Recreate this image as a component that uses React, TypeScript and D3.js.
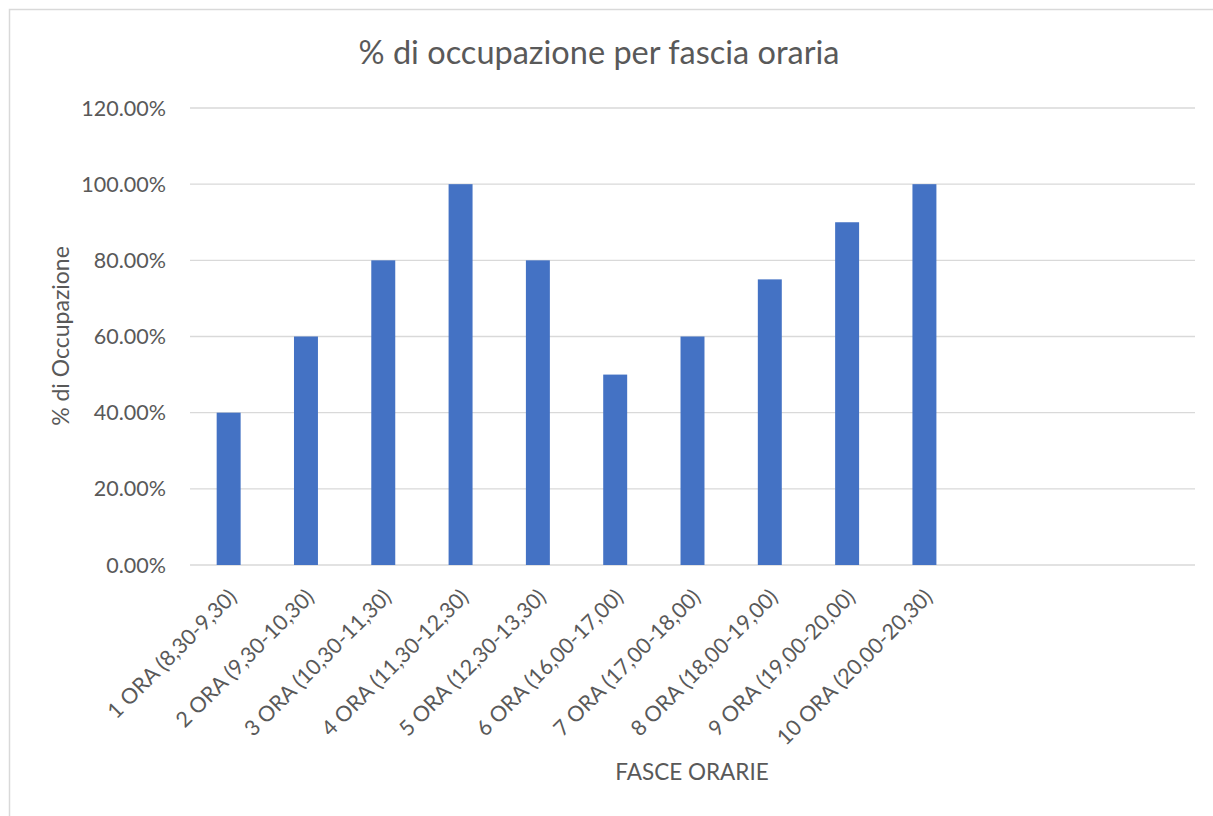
import { useEffect, useRef } from "react";
import * as d3 from "d3";

// categories (13 slots on the axis, the last 3 are empty)
const categories = [
  "1 ORA (8,30-9,30)",
  "2 ORA (9,30-10,30)",
  "3 ORA (10,30-11,30)",
  "4 ORA (11,30-12,30)",
  "5 ORA (12,30-13,30)",
  "6 ORA (16,00-17,00)",
  "7 ORA (17,00-18,00)",
  "8 ORA (18,00-19,00)",
  "9 ORA (19,00-20,00)",
  "10 ORA (20,00-20,30)",
  "",
  " ",
  "  ",
];
const occupancy = [0.4, 0.6, 0.8, 1.0, 0.8, 0.5, 0.6, 0.75, 0.9, 1.0];
const yTicks = [0, 0.2, 0.4, 0.6, 0.8, 1.0, 1.2];

export default function App() {
  const svgRef = useRef<SVGSVGElement>(null);

  useEffect(() => {
    if (!svgRef.current) return;
    const W = 1213;
    const H = 816;
    const margin = { top: 108, right: 18, bottom: 251, left: 190 };
    const width = W - margin.left - margin.right;
    const height = H - margin.top - margin.bottom;
    const font = "Lato, 'Open Sans', sans-serif";
    const textColor = "#595959";

    const root = d3.select(svgRef.current);
    root.selectAll("*").remove();
    root.attr("width", W).attr("height", H).style("display", "block");

    root
      .append("rect")
      .attr("x", 9.5)
      .attr("y", 9.5)
      .attr("width", W + 10)
      .attr("height", H + 10)
      .attr("fill", "#fff")
      .attr("stroke", "#d9d9d9")
      .attr("stroke-width", 1.5);

    const svg = root
      .append("g")
      .attr("transform", `translate(${margin.left},${margin.top})`);

    const x = d3
      .scaleBand()
      .domain(categories)
      .range([0, width])
      .paddingInner(0.69)
      .paddingOuter(0.345);

    const y = d3.scaleLinear().domain([0, 1.2]).range([height, 0]);

    // gridlines
    svg
      .append("g")
      .selectAll("line")
      .data(yTicks)
      .join("line")
      .attr("x1", 0)
      .attr("x2", width)
      .attr("y1", (d) => y(d))
      .attr("y2", (d) => y(d))
      .attr("stroke", "#d9d9d9")
      .attr("stroke-width", 1.3);

    // y tick labels
    svg
      .append("g")
      .selectAll("text")
      .data(yTicks)
      .join("text")
      .attr("x", -24)
      .attr("y", (d) => y(d))
      .attr("dy", "0.35em")
      .attr("text-anchor", "end")
      .attr("font-family", font)
      .attr("font-size", 21.5)
      .attr("fill", textColor)
      .text((d) => (d * 100).toFixed(2) + "%");

    // bars
    svg
      .append("g")
      .selectAll("rect")
      .data(occupancy)
      .join("rect")
      .attr("x", (_, i) => x(categories[i]) as number)
      .attr("y", (d) => y(d))
      .attr("width", x.bandwidth())
      .attr("height", (d) => height - y(d))
      .attr("fill", "#4472c4");

    // x tick labels
    svg
      .append("g")
      .selectAll("text")
      .data(categories.slice(0, occupancy.length))
      .join("text")
      .attr("transform", (d) => {
        const cx = (x(d) as number) + x.bandwidth() / 2 + 4;
        return `translate(${cx},${height + 28}) rotate(-45)`;
      })
      .attr("text-anchor", "end")
      .attr("dy", "0.35em")
      .attr("font-family", font)
      .attr("font-size", 21.5)
      .attr("fill", textColor)
      .text((d) => d);

    // title
    root
      .append("text")
      .attr("x", 599)
      .attr("y", 64)
      .attr("text-anchor", "middle")
      .attr("font-family", font)
      .attr("font-size", 32.5)
      .attr("fill", textColor)
      .text("% di occupazione per fascia oraria");

    // axis titles
    root
      .append("text")
      .attr("x", 692)
      .attr("y", 780)
      .attr("text-anchor", "middle")
      .attr("font-family", font)
      .attr("font-size", 22.5)
      .attr("fill", textColor)
      .text("FASCE ORARIE");

    root
      .append("text")
      .attr("transform", `translate(69,336) rotate(-90)`)
      .attr("text-anchor", "middle")
      .attr("font-family", font)
      .attr("font-size", 23)
      .attr("fill", textColor)
      .text("% di Occupazione");
  }, []);

  return <svg ref={svgRef} style={{ position: "absolute", left: 0, top: 0 }} />;
}
